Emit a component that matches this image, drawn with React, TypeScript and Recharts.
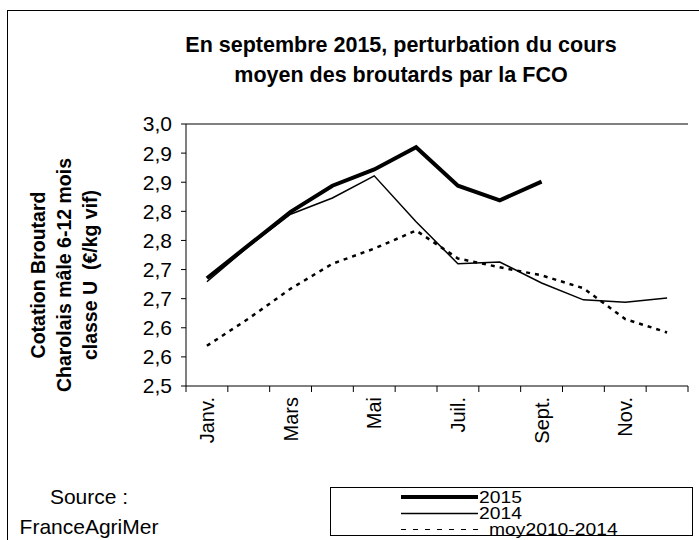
import React from 'react';
import { LineChart, Line, XAxis, YAxis, Legend, ReferenceLine } from 'recharts';

const months = ['Janv.', 'Févr.', 'Mars', 'Avr.', 'Mai', 'Juin', 'Juil.', 'Août', 'Sept.', 'Oct.', 'Nov.', 'Déc.'];
const series2015: (number | null)[] = [2.685, 2.742, 2.799, 2.844, 2.872, 2.91, 2.844, 2.819, 2.851, null, null, null];
const series2014 = [2.679, 2.74, 2.795, 2.823, 2.861, 2.782, 2.71, 2.713, 2.677, 2.648, 2.644, 2.651];
const seriesMoy = [2.569, 2.616, 2.667, 2.71, 2.736, 2.767, 2.719, 2.704, 2.69, 2.668, 2.615, 2.592];
const yTicks = [2.5, 2.55, 2.6, 2.65, 2.7, 2.75, 2.8, 2.85, 2.9, 2.95];
const yTickLabels = ['2,5', '2,6', '2,6', '2,7', '2,7', '2,8', '2,8', '2,9', '2,9', '3,0'];
const seriesNames = ['2015', '2014', 'moy2010-2014'];
const titleLines = ['En septembre 2015, perturbation du cours', 'moyen des broutards par la FCO'];
const yTitleLines = ['Cotation Broutard', 'Charolais mâle 6-12 mois', 'classe U  (€/kg vif)'];
const sourceLines = ['Source :', 'FranceAgriMer'];

const data = months.map((m, i) => ({
  month: m,
  y2015: series2015[i],
  y2014: series2014[i],
  moy: seriesMoy[i],
}));

const FONT = '"Liberation Sans", Arial, sans-serif';

const styles: Record<string, { width: number; dash?: string; lineEnd: number; textX: number; cy: number }> = {
  y2015: { width: 4, lineEnd: 147, textX: 148, cy: 9 },
  y2014: { width: 1.5, lineEnd: 147, textX: 148, cy: 25.5 },
  moy: { width: 1.2, dash: '5 7', lineEnd: 153, textX: 158, cy: 41.5 },
};

const MonthTick = (props: any) => {
  const { x, y, payload } = props;
  const idx = props.index ?? payload?.index ?? 0;
  const half = payload && typeof payload.offset === 'number' && payload.offset > 0 ? payload.offset : 20.9;
  const ty = y + 5;
  return (
    <g>
      <line x1={x - half} x2={x - half} y1={y - 6} y2={y} stroke="#000" strokeWidth={1} />
      {idx === months.length - 1 && (
        <line x1={x + half} x2={x + half} y1={y - 6} y2={y} stroke="#000" strokeWidth={1} />
      )}
      {idx % 2 === 0 && (
        <text
          x={x}
          y={ty}
          transform={`rotate(-90 ${x} ${ty})`}
          textAnchor="end"
          dy="0.36em"
          fontSize={20}
          fontFamily={FONT}
          fill="#000"
        >
          {payload.value}
        </text>
      )}
    </g>
  );
};

const renderLegend = (props: any) => {
  const payload = (props.payload || []) as any[];
  return (
    <div style={{ width: 363, height: 49, border: '1px solid #000', boxSizing: 'border-box', background: '#fff' }}>
      <svg width={361} height={47} style={{ display: 'block', overflow: 'visible' }}>
        {payload.map((p: any, i: number) => {
          const key = String(p.dataKey);
          const s = styles[key];
          if (!s) return null;
          return (
            <g key={i}>
              <line x1={70} x2={s.lineEnd} y1={s.cy} y2={s.cy} stroke="#000" strokeWidth={s.width} strokeDasharray={s.dash} />
              <g transform={`translate(${s.textX} ${s.cy}) scale(1.17 1)`}>
                <text x={0} y={0} dy="0.36em" fontSize={16.5} fontFamily={FONT} fill="#000">
                  {p.value}
                </text>
              </g>
            </g>
          );
        })}
      </svg>
    </div>
  );
};

export default function App() {
  return (
    <div style={{ position: 'absolute', left: 0, top: 0, width: 699, height: 540, overflow: 'hidden', background: '#fff', fontFamily: FONT }}>
      <div style={{ position: 'absolute', left: 7, top: 10, width: 800, height: 600, borderLeft: '1px solid #000', borderTop: '1px solid #000' }} />
      <div style={{ position: 'absolute', left: 101, top: 30, width: 600, textAlign: 'center', fontWeight: 'bold', fontSize: 21.5, lineHeight: '30px', color: '#000' }}>
        {titleLines.map((t, i) => (
          <div key={i}>{t}</div>
        ))}
      </div>
      <div
        style={{
          position: 'absolute',
          left: 64 - 160,
          top: 275 - 39,
          width: 320,
          height: 78,
          transform: 'rotate(-90deg)',
          textAlign: 'center',
          fontWeight: 'bold',
          fontSize: 19.5,
          lineHeight: '26px',
          color: '#000',
          whiteSpace: 'pre',
        }}
      >
        {yTitleLines.map((t, i) => (
          <div key={i}>{t}</div>
        ))}
      </div>
      <div style={{ position: 'absolute', left: 0, top: 482, width: 178, textAlign: 'center', fontSize: 21, lineHeight: '30px', color: '#000' }}>
        {sourceLines.map((t, i) => (
          <div key={i}>{t}</div>
        ))}
      </div>
      <div style={{ position: 'absolute', left: 0, top: 0 }}>
        <LineChart width={699} height={540} data={data} margin={{ top: 124, right: 11, bottom: 94, left: 0 }}>
          <XAxis
            dataKey="month"
            scale="band"
            interval={0}
            tick={<MonthTick />}
            tickLine={false}
            tickSize={6}
            tickMargin={0}
            height={60}
            axisLine={{ stroke: '#000', strokeWidth: 1 }}
          />
          <YAxis
            type="number"
            domain={[2.5, 2.95]}
            ticks={yTicks}
            interval={0}
            width={186}
            tickSize={5}
            tickMargin={9}
            axisLine={{ stroke: '#000', strokeWidth: 1 }}
            tickLine={{ stroke: '#000', strokeWidth: 1 }}
            tick={{ fontSize: 21, fontFamily: FONT, fill: '#000' }}
            tickFormatter={(v: number) => {
              const i = yTicks.findIndex((t) => Math.abs(t - v) < 1e-6);
              return i >= 0 ? yTickLabels[i] : '';
            }}
          />
          <YAxis
            yAxisId="r"
            orientation="right"
            type="number"
            domain={[2.5, 2.95]}
            width={0}
            tick={false}
            tickLine={false}
            axisLine={{ stroke: '#808080', strokeWidth: 2 }}
          />
          <ReferenceLine y={2.95} stroke="#808080" strokeWidth={2} ifOverflow="visible" />
          <Legend
            layout="vertical"
            align="center"
            verticalAlign="middle"
            content={renderLegend}
            wrapperStyle={{ left: 330, top: 487, width: 363, height: 49 }}
          />
          <Line
            dataKey="moy"
            name={seriesNames[2]}
            stroke="#000"
            strokeWidth={2.5}
            strokeDasharray="4 5"
            dot={false}
            isAnimationActive={false}
          />
          <Line
            dataKey="y2014"
            name={seriesNames[1]}
            stroke="#000"
            strokeWidth={1.5}
            dot={false}
            isAnimationActive={false}
          />
          <Line
            dataKey="y2015"
            name={seriesNames[0]}
            stroke="#000"
            strokeWidth={4}
            dot={false}
            isAnimationActive={false}
          />
        </LineChart>
      </div>
    </div>
  );
}
